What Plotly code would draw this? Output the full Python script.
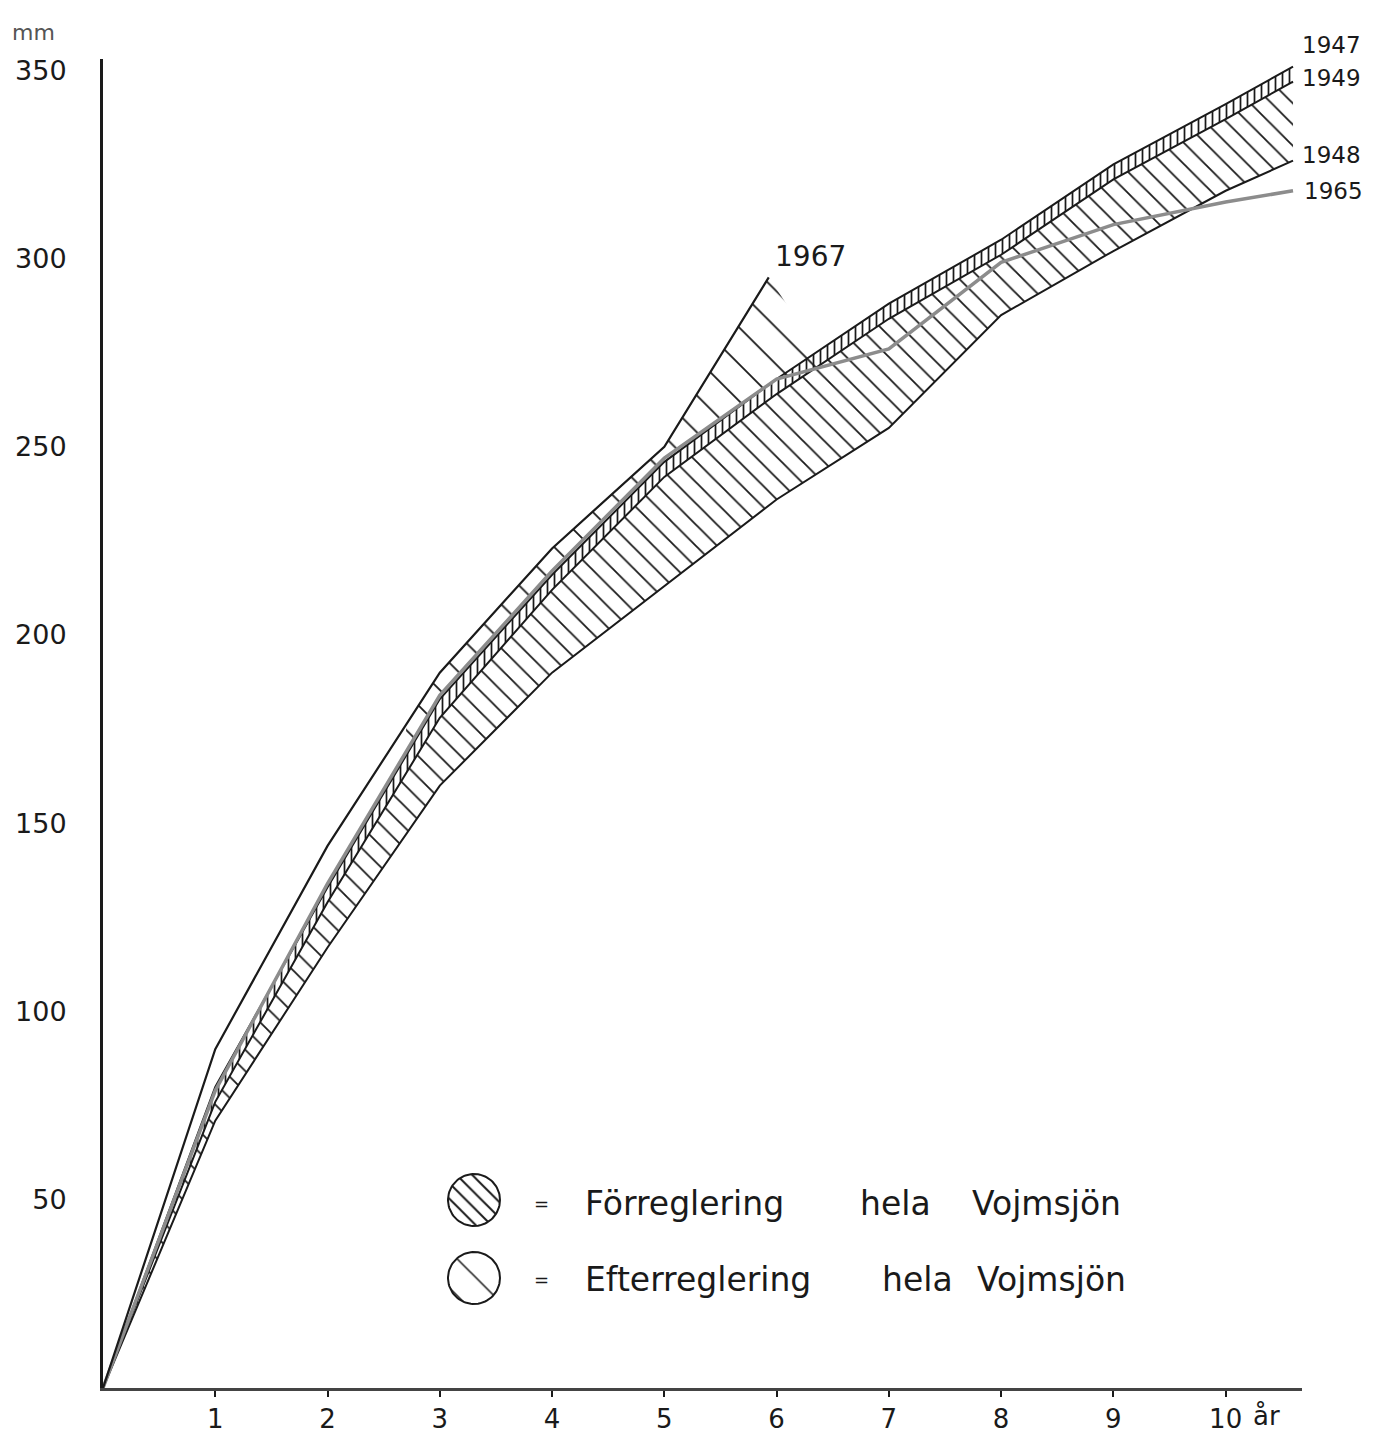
import numpy as np
import plotly.graph_objects as go

# ---------------- data ----------------
ages = [0, 1, 2, 3, 4, 5, 6, 7, 8, 9, 10, 10.6]
y1947 = [0, 80, 133, 183, 216, 246, 268, 288, 305, 325, 341, 351]
y1949 = [0, 76, 129, 178, 212, 242, 264, 284, 301, 321, 337, 347]
y1948 = [0, 71, 117, 160, 190, 213, 236, 255, 285, 302, 318, 326]
y1965 = [0, 79, 134, 184, 217, 247, 268, 276, 299, 309, 315, 318]
ages1967 = [0, 1, 2, 3, 4, 5, 5.93]
y1967 = [0, 90, 144, 190, 223, 250, 295]

x_ticks = [1, 2, 3, 4, 5, 6, 7, 8, 9, 10]
x_ticktext = ["1", "2", "3", "4", "5", "6", "7", "8", "9", "10"]
y_ticks = [50, 100, 150, 200, 250, 300, 350]
y_ticktext = ["50", "100", "150", "200", "250", "300", "350"]

series_labels = ["1947", "1949", "1948", "1965"]
legend_rows = [["Förreglering", "hela", "Vojmsjön"],
               ["Efterreglering", "hela", "Vojmsjön"]]

HATCH_START = 2.7   # start of Efterreglering hatching
HATCH_END = 6.45    # where the 1967 hatching meets the lower curves

INK = "#1a1a1a"
GREY = "#8c8c8c"
FONT = "DejaVu Sans"

# the page body adds an 8px offset; the figure is sized to fit inside it
OFF = 8
W, H = 1376 - 2 * OFF, 1443 - 2 * OFF
X_MAX = 10.68
Y_MAX = 353
SCALE_X = 112.3
L = 103 - OFF
T = 59 - OFF
B = H - (1388 - OFF)
PLOT_W = round(X_MAX * SCALE_X)
R = W - L - PLOT_W
PLOT_H = H - T - B
px_x = PLOT_W / X_MAX
px_y = PLOT_H / Y_MAX


def dx(sx):  # screen column -> data x
    return (sx - OFF - L) / px_x


def dy(sy):  # screen row -> data y
    return (H - B - (sy - OFF)) / px_y


def px(sx):  # screen column -> paper x
    return (sx - OFF - L) / PLOT_W


def py(sy):  # screen row -> paper y
    return (H - B - (sy - OFF)) / PLOT_H


fig = go.Figure()


def band(xu, yu, xl, yl, shape, size, solidity):
    xs = list(xu) + list(xl)[::-1]
    ys = list(yu) + list(yl)[::-1]
    fig.add_trace(go.Scatter(
        x=xs, y=ys, mode="lines", fill="toself",
        line=dict(width=0, color="rgba(0,0,0,0)"),
        fillcolor="rgba(0,0,0,0)",
        fillpattern=dict(shape=shape, size=size, solidity=solidity,
                         fgcolor=INK, bgcolor="rgba(255,255,255,0)",
                         fillmode="replace"),
        hoverinfo="skip", showlegend=False))


# Förreglering: diagonal hatch between 1949 and 1948
band(ages, y1948, ages, y1949, "\\", 15, 0.12)
# narrow dense vertical hatch between 1947 and 1949
band(ages, y1947, ages, y1949, "|", 7, 0.25)

# Efterreglering: sparse hatch between 1967 and 1965
top_x = [HATCH_START] + [a for a in ages1967 if a > HATCH_START]
top_y = list(np.interp(top_x, ages1967, y1967))
bot_x = [HATCH_START] + [a for a in ages if HATCH_START < a < HATCH_END] + [HATCH_END]
bot_y = list(np.interp(bot_x, ages, y1965))
fig.add_trace(go.Scatter(
    x=top_x + bot_x[::-1], y=top_y + bot_y[::-1], mode="lines", fill="toself",
    line=dict(width=0, color="rgba(0,0,0,0)"), fillcolor="rgba(0,0,0,0)",
    fillpattern=dict(shape="\\", size=26, solidity=0.07, fgcolor=INK,
                     bgcolor="rgba(255,255,255,0)", fillmode="replace"),
    hoverinfo="skip", showlegend=False))

# curves
for yy in (y1948, y1949, y1947):
    fig.add_trace(go.Scatter(x=ages, y=yy, mode="lines",
                             line=dict(color=INK, width=2),
                             hoverinfo="skip", showlegend=False))
fig.add_trace(go.Scatter(x=ages, y=y1965, mode="lines",
                         line=dict(color=GREY, width=3.5),
                         hoverinfo="skip", showlegend=False))
fig.add_trace(go.Scatter(x=ages1967, y=y1967, mode="lines",
                         line=dict(color=INK, width=2.2),
                         hoverinfo="skip", showlegend=False))

# ---------------- legend glyphs (hand-drawn style circles) ----------------
r = 26
t = np.linspace(0, 2 * np.pi, 90)
glyph_rows = [(1200, ("\\", 11, 0.18)), (1278, ("\\", 26, 0.06))]
for cy_s, (shp, sz, sol) in glyph_rows:
    gx = dx(474) + (r / px_x) * np.cos(t)
    gy = dy(cy_s) + (r / px_y) * np.sin(t)
    fig.add_trace(go.Scatter(
        x=gx, y=gy, mode="lines", fill="toself",
        line=dict(color=INK, width=2), fillcolor="rgba(0,0,0,0)",
        fillpattern=dict(shape=shp, size=sz, solidity=sol, fgcolor=INK,
                         bgcolor="rgba(255,255,255,0)", fillmode="replace"),
        hoverinfo="skip", showlegend=False))

annotations = []
word_sx = [[583, 858, 970], [583, 880, 975]]
row_sy = [1203, 1279]
for row, wsx, sy in zip(legend_rows, word_sx, row_sy):
    annotations.append(dict(x=dx(541), y=dy(sy), xref="x", yref="y", text="=",
                            showarrow=False, xanchor="center", yanchor="middle",
                            font=dict(family=FONT, size=18, color=INK)))
    for w, sx in zip(row, wsx):
        annotations.append(dict(x=dx(sx), y=dy(sy), xref="x", yref="y", text=w,
                                showarrow=False, xanchor="left", yanchor="middle",
                                font=dict(family=FONT, size=33, color=INK)))

# series labels at the right end (paper coords, outside the plot area)
label_s = [(1331, 45), (1331, 78), (1331, 155), (1333, 191)]
for lab, (sx, sy) in zip(series_labels, label_s):
    annotations.append(dict(x=px(sx), y=py(sy), xref="paper", yref="paper",
                            text=lab, showarrow=False,
                            xanchor="center", yanchor="middle",
                            font=dict(family=FONT, size=23, color=INK)))
annotations.append(dict(x=dx(810), y=dy(256), xref="x", yref="y", text="1967",
                        showarrow=False, xanchor="center", yanchor="middle",
                        font=dict(family=FONT, size=28, color=INK)))
annotations.append(dict(x=px(33), y=py(32), xref="paper", yref="paper", text="mm",
                        showarrow=False, xanchor="center", yanchor="middle",
                        font=dict(family=FONT, size=22, color="#555")))
annotations.append(dict(x=dx(1266), y=py(1416), xref="x", yref="paper", text="år",
                        showarrow=False, xanchor="center", yanchor="middle",
                        font=dict(family=FONT, size=26, color=INK)))

fig.update_layout(
    width=W, height=H,
    margin=dict(l=L, r=R, t=T, b=B, autoexpand=False),
    paper_bgcolor="white", plot_bgcolor="white",
    showlegend=False,
    annotations=annotations,
    xaxis=dict(range=[0, X_MAX], tickvals=x_ticks, ticktext=x_ticktext,
               ticks="outside", ticklen=6, tickwidth=2, tickcolor=INK,
               showline=True, linecolor="#444", linewidth=3,
               showgrid=False, zeroline=False, automargin=False,
               tickfont=dict(family=FONT, size=26, color=INK)),
    yaxis=dict(range=[0, Y_MAX], tickvals=y_ticks, ticktext=y_ticktext,
               ticks="", showline=True, linecolor=INK, linewidth=3,
               showgrid=False, zeroline=False, ticklabelstandoff=28,
               automargin=False,
               tickfont=dict(family=FONT, size=27, color=INK)),
)

fig.write_html("out.html")
